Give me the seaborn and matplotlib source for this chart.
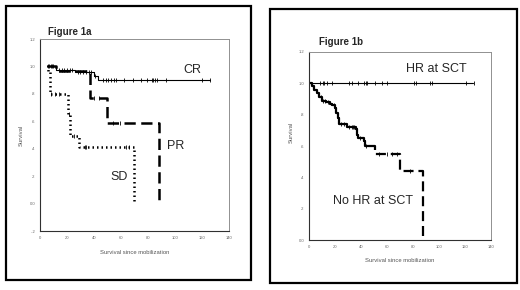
import numpy as np
import pandas as pd
import seaborn as sns
import matplotlib.pyplot as plt
from matplotlib.patches import Rectangle

# ---- Figure 1a: survival by response group (step curves) ----
cr_t = [5, 12, 26, 40, 43, 126]
cr_s = [1.0, 0.975, 0.96, 0.93, 0.90, 0.90]
cr_cens = [6, 7, 8, 9, 10, 14, 16, 18, 20, 22, 24, 28, 30, 32, 34, 36, 38, 41,
           47, 49, 50.7, 52.5, 54.5, 56.4, 62, 69, 75, 79, 83, 84, 85.4, 86.6, 93, 120, 126]

pr_t = [5, 12, 37, 50, 88]
pr_s = [1.0, 0.97, 0.773, 0.585, 0.0]
pr_cens = [40, 44, 54, 59]

sd_t = [5, 6, 7.5, 21, 22, 29, 70]
sd_s = [1.0, 0.96, 0.80, 0.65, 0.49, 0.41, 0.0]
sd_cens = [8.5, 11, 14, 21.5, 25, 33, 34, 64, 66]

# ---- Figure 1b: HR at SCT vs no HR at SCT ----
hr_t = [0, 126]
hr_s = [1.0, 1.0]
hr_cens = [8.7, 10.5, 11.8, 13.8, 17.7, 30.5, 33, 37.4, 42, 43.8, 45, 51, 56, 60,
           80.4, 82, 93, 94.3, 121, 127]

nohr_t = [0, 2, 4, 6, 8, 10, 13, 16, 18, 20, 21, 22, 23, 29, 36, 37, 38, 42, 43, 46]
nohr_s = [1.0, 0.98, 0.96, 0.94, 0.91, 0.89, 0.88, 0.87, 0.86, 0.84, 0.81, 0.78,
          0.74, 0.72, 0.71, 0.67, 0.65, 0.63, 0.60, 0.60]
nohr_tail_t = [46, 51, 70, 88]
nohr_tail_s = [0.60, 0.55, 0.44, 0.0]
nohr_cens = [9, 11, 12, 15, 19, 25, 27, 31, 33, 34, 35, 39, 44, 53.5, 60, 63.7, 67.6, 78]

x_ticks = [0, 20, 40, 60, 80, 100, 120, 140]
y_ticks_a = [-0.2, 0.0, 0.2, 0.4, 0.6, 0.8, 1.0, 1.2]
y_labels_a = ["-.2", "0.0", ".2", ".4", ".6", ".8", "1.0", "1.2"]
y_ticks_b = [0.0, 0.2, 0.4, 0.6, 0.8, 1.0, 1.2]
y_labels_b = ["0.0", ".2", ".4", ".6", ".8", "1.0", "1.2"]

sns.set_style("white")
plt.rcParams['font.family'] = ['Liberation Sans', 'DejaVu Sans']


def step_at(t, s, x):
    t = np.asarray(t)
    s = np.asarray(s)
    idx = np.searchsorted(t, x, side='right') - 1
    idx = np.clip(idx, 0, len(s) - 1)
    return s[idx]


def curve(ax, t, s, **kw):
    sns.lineplot(x=t, y=s, ax=ax, estimator=None, sort=False,
                 drawstyle='steps-post', color='black', **kw)


def censor(ax, t, s, cens):
    cy = step_at(t, s, np.asarray(cens))
    sns.scatterplot(x=cens, y=cy, ax=ax, marker='|', s=10, color='black',
                    linewidth=0.6, zorder=5)


def style_axes(ax, yticks, ylabels, ylim):
    ax.set_xlim(0, 140)
    ax.set_ylim(*ylim)
    ax.set_xticks(x_ticks)
    ax.set_xticklabels([str(v) for v in x_ticks])
    ax.set_yticks(yticks)
    ax.set_yticklabels(ylabels)
    ax.tick_params(axis='both', labelsize=3, colors='#555555', length=2, width=0.5,
                   pad=1.5, direction='out')
    ax.tick_params(axis='both', labelcolor='#666666')
    for side in ['top', 'right']:
        ax.spines[side].set_color('#909090')
        ax.spines[side].set_linewidth(0.7)
    for side in ['left', 'bottom']:
        ax.spines[side].set_color('#303030')
        ax.spines[side].set_linewidth(0.8)
    ax.set_xlabel("Survival since mobilization", fontsize=4.2, color='#555555')
    ax.set_ylabel("Survival", fontsize=4.2, color='#555555')
    ax.xaxis.set_label_coords(0.5, -0.11)
    ax.xaxis.label.set_va('center')
    ax.yaxis.set_label_coords(-0.1, 0.5)
    ax.yaxis.label.set_va('center')
    leg = ax.get_legend()
    if leg is not None:
        leg.remove()


fig = plt.figure(figsize=(5.2, 2.9), dpi=100)
ax1 = fig.add_axes([0.0769, 0.2034, 0.3635, 0.662])
ax2 = fig.add_axes([0.5942, 0.1724, 0.35, 0.6483])

# panel a
curve(ax1, cr_t, cr_s, linewidth=0.8)
censor(ax1, cr_t, cr_s, cr_cens)
curve(ax1, pr_t, pr_s, linewidth=1.8, dashes=(4.5, 2.2))
censor(ax1, pr_t, pr_s, pr_cens)
curve(ax1, sd_t, sd_s, linewidth=1.8, dashes=(0.6, 1.2))
censor(ax1, sd_t, sd_s, sd_cens)
style_axes(ax1, y_ticks_a, y_labels_a, (-0.2, 1.2))
ax1.text(112.6, 0.976, "CR", fontsize=9, ha='center', va='center')
ax1.text(100.2, 0.422, "PR", fontsize=9, ha='center', va='center')
ax1.text(58.7, 0.195, "SD", fontsize=9, ha='center', va='center')

# panel b
curve(ax2, hr_t, hr_s, linewidth=0.8)
censor(ax2, hr_t, hr_s, hr_cens)
curve(ax2, nohr_t, nohr_s, linewidth=1.6)
curve(ax2, nohr_tail_t, nohr_tail_s, linewidth=1.6, dashes=(4.5, 2.2))
censor(ax2, nohr_t[:-1] + nohr_tail_t, nohr_s[:-1] + nohr_tail_s, nohr_cens)
style_axes(ax2, y_ticks_b, y_labels_b, (0.0, 1.2))
ax2.yaxis.set_label_coords(-0.1, 0.57)
ax2.text(98.3, 1.091, "HR at SCT", fontsize=9, ha='center', va='center')
ax2.text(49.6, 0.249, "No HR at SCT", fontsize=9, ha='center', va='center')

fig.text(47.7 / 520, 1 - 31.7 / 290, "Figure 1a", fontsize=7, fontweight='bold',
         ha='left', va='center')
fig.text(319.3 / 520, 1 - 42.3 / 290, "Figure 1b", fontsize=7, fontweight='bold',
         ha='left', va='center')

fig.patches.append(Rectangle((6 / 520, 1 - 280 / 290), 245 / 520, 274 / 290, fill=False,
                             linewidth=1.6, edgecolor='black', transform=fig.transFigure))
fig.patches.append(Rectangle((270 / 520, 1 - 283 / 290), 247 / 520, 274 / 290, fill=False,
                             linewidth=1.6, edgecolor='black', transform=fig.transFigure))

fig.savefig("out.png", dpi=100)
